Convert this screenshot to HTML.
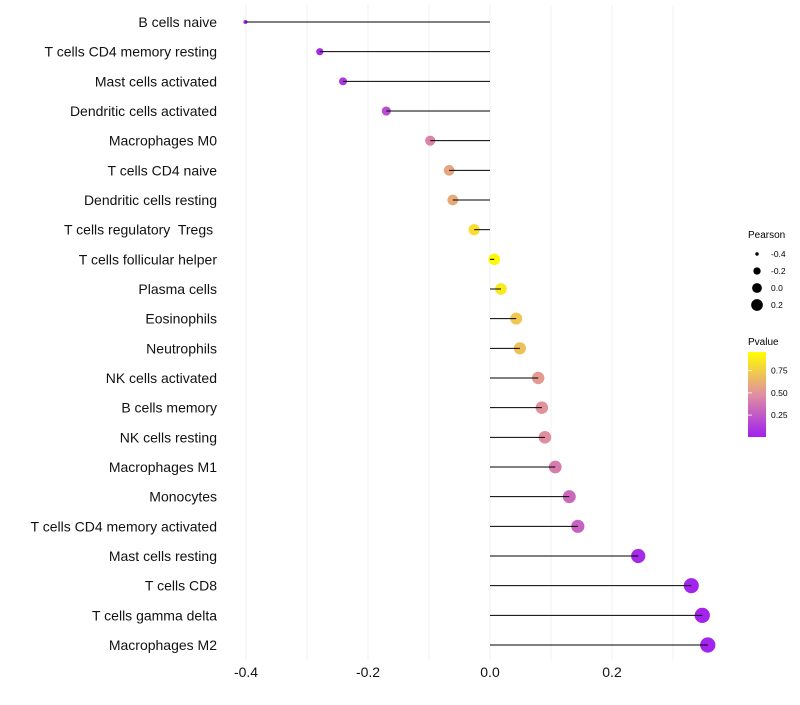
<!DOCTYPE html>
<html><head><meta charset="utf-8"><style>
body{margin:0;background:#fff;font-family:"Liberation Sans",sans-serif;}
</style></head><body>
<svg id="chart" width="800" height="700" xmlns="http://www.w3.org/2000/svg" font-family="Liberation Sans, sans-serif">
<defs><linearGradient id="pg" x1="0" y1="1" x2="0" y2="0">
<stop offset="0" stop-color="#a020f0"/><stop offset="0.5" stop-color="#e08fa0"/><stop offset="1" stop-color="#ffff00"/></linearGradient></defs>
<g id="grid"></g><g id="marks"></g><g id="labels"></g>
<g>
<text x="748" y="238" font-size="10">Pearson</text>
<g id="sizeleg"></g>
<text x="748" y="345" font-size="10">Pvalue</text>
<rect x="748" y="352" width="18" height="85" fill="url(#pg)"/>
<g id="colleg"></g>
</g>
</svg>
<script>
const categories=["B cells naive","T cells CD4 memory resting","Mast cells activated","Dendritic cells activated","Macrophages M0","T cells CD4 naive","Dendritic cells resting","T cells regulatory  Tregs ","T cells follicular helper","Plasma cells","Eosinophils","Neutrophils","NK cells activated","B cells memory","NK cells resting","Macrophages M1","Monocytes","T cells CD4 memory activated","Mast cells resting","T cells CD8","T cells gamma delta","Macrophages M2"];
const pearson=[-0.401,-0.279,-0.241,-0.170,-0.098,-0.067,-0.061,-0.026,0.007,0.018,0.043,0.049,0.079,0.085,0.090,0.107,0.130,0.144,0.243,0.330,0.348,0.357];
const pvalue=[0.05,0.05,0.1,0.2,0.45,0.6,0.62,0.85,0.97,0.9,0.75,0.72,0.55,0.52,0.5,0.42,0.33,0.3,0.05,0.02,0.02,0.02];
const xTicks=[-0.4,-0.2,0.0,0.2];
const xMinor=[-0.3,-0.1,0.1,0.3];
const sizeLegend=[-0.4,-0.2,0.0,0.2];
const colorLegend=[0.25,0.5,0.75];
const NS="http://www.w3.org/2000/svg";
const X=v=>490+v*610;
const Y=i=>22+i*(623/21);
const R=v=>Math.sqrt(Math.max(2,33+72*v));
const PY=p=>437-(p-0.003)/(0.957)*85;
function hex(c){return [1,3,5].map(i=>parseInt(c.substr(i,2),16));}
function col(p){const s=[hex("#a020f0"),hex("#e08fa0"),hex("#ffff00")];let a,b,t;if(p<0.5){a=s[0];b=s[1];t=p/0.5;}else{a=s[1];b=s[2];t=(p-0.5)/0.5;}t=Math.min(1,Math.max(0,t));return "rgb("+a.map((v,i)=>Math.round(v+(b[i]-v)*t)).join(",")+")";}
function mk(tag,at,par){const e=document.createElementNS(NS,tag);for(const k in at)e.setAttribute(k,at[k]);document.getElementById(par).appendChild(e);return e;}
xMinor.concat(xTicks).forEach(v=>{const l=mk("line",{x1:X(v),x2:X(v),y1:5,y2:660,stroke:"#f2f2f2","stroke-width":1},"grid");

});
xTicks.forEach(v=>{const t=mk("text",{x:X(v),y:677,"font-size":14,"text-anchor":"middle",fill:"#111"},"labels");t.textContent=v.toFixed(1);

});
categories.forEach((c,i)=>{const t=mk("text",{x:217,y:Y(i)+5,"font-size":14,"text-anchor":"end",fill:"#111"},"labels");t.setAttribute("xml:space","preserve");t.style.whiteSpace="pre";t.textContent=c;


const p=mk("circle",{cx:X(pearson[i]),cy:Y(i),r:R(pearson[i]),fill:col(pvalue[i])},"marks");


const l=mk("line",{x1:X(0),x2:X(pearson[i]),y1:Y(i),y2:Y(i),stroke:"#000","stroke-width":1},"marks");

});
sizeLegend.forEach((v,i)=>{const y=254+i*17;const c=mk("circle",{cx:757,cy:y,r:R(v)*0.85,fill:"#000"},"sizeleg");


const t=mk("text",{x:771,y:y+3,"font-size":8.5},"sizeleg");t.textContent=v.toFixed(1);

});
colorLegend.forEach(p=>{const t=mk("text",{x:771,y:PY(p)+3,"font-size":8.5},"colleg");t.textContent=p.toFixed(2);


const k=mk("line",{x1:748,x2:752,y1:PY(p),y2:PY(p),stroke:"#fff","stroke-width":0.8},"colleg");

});
</script>
</body></html>
